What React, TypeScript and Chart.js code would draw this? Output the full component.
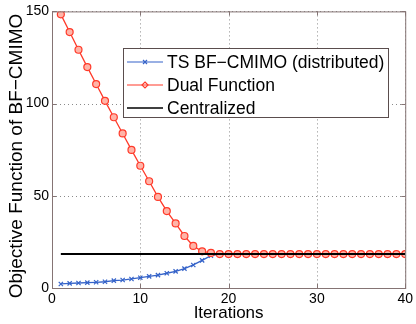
import React, { useEffect, useRef } from "react";
import { Chart, registerables } from "chart.js";

Chart.register(...registerables);

const iterations = [1, 2, 3, 4, 5, 6, 7, 8, 9, 10, 11, 12, 13, 14, 15, 16, 17, 18, 19, 20, 21, 22, 23, 24, 25, 26, 27, 28, 29, 30, 31, 32, 33, 34, 35, 36, 37, 38, 39, 40];

const tsDistributed = [2.2, 2.5, 2.7, 2.9, 3.1, 3.4, 4.0, 4.3, 4.9, 5.6, 6.3, 7.0, 8.0, 9.0, 10.5, 12.5, 15.0, 17.5, 18.4, 18.4, 18.4, 18.4, 18.4, 18.4, 18.4, 18.4, 18.4, 18.4, 18.4, 18.4, 18.4, 18.4, 18.4, 18.4, 18.4, 18.4, 18.4, 18.4, 18.4, 18.4];

const dualFunction = [148.4, 138.8, 129.2, 119.8, 110.6, 101.5, 92.6, 83.8, 74.9, 66.3, 57.9, 49.4, 41.7, 35.0, 28.2, 22.8, 19.9, 19.0, 18.4, 18.4, 18.4, 18.4, 18.4, 18.4, 18.4, 18.4, 18.4, 18.4, 18.4, 18.4, 18.4, 18.4, 18.4, 18.4, 18.4, 18.4, 18.4, 18.4, 18.4, 18.4];

const centralizedX = [1, 40];
const centralizedY = [18.4, 18.4];

const seriesNames = ["TS BF\u2212CMIMO (distributed)", "Dual Function", "Centralized"];
const yAxisTitle = "Objective Function of BF\u2212CMIMO";
const xTicks = [0, 10, 20, 30, 40];
const yTicks = [0, 50, 100, 150];

const BLUE = "#3563c9";
const RED = "#ff3a2a";
const FONT = "'Liberation Sans', Arial, sans-serif";

const gridPlugin = {
  id: "dotgrid",
  beforeDatasetsDraw(chart: any) {
    const { ctx, chartArea } = chart;
    const { left, right, top, bottom } = chartArea;
    const xs = chart.scales.x;
    const ys = chart.scales.y;
    ctx.save();
    ctx.strokeStyle = "#8a8a8a";
    ctx.lineWidth = 1;
    ctx.setLineDash([1, 3]);
    ctx.beginPath();
    xTicks.forEach((t) => {
      const px = Math.round(xs.getPixelForValue(t)) + 0.5;
      ctx.moveTo(px, top); ctx.lineTo(px, bottom);
    });
    yTicks.forEach((t) => {
      const py = Math.round(ys.getPixelForValue(t)) + 0.5;
      ctx.moveTo(left, py); ctx.lineTo(right, py);
    });
    ctx.stroke();
    ctx.restore();
  },
};

const framePlugin = {
  id: "frame",
  afterDatasetsDraw(chart: any) {
    const { ctx, chartArea } = chart;
    const { left, right, top, bottom } = chartArea;
    ctx.save();
    ctx.strokeStyle = "#857474";
    ctx.lineWidth = 1;
    ctx.strokeRect(left + 0.5, top + 0.5, right - left, bottom - top);
    const xs = chart.scales.x;
    const ys = chart.scales.y;
    ctx.beginPath();
    xTicks.forEach((t) => {
      const px = Math.round(xs.getPixelForValue(t)) + 0.5;
      ctx.moveTo(px, bottom); ctx.lineTo(px, bottom - 4);
      ctx.moveTo(px, top); ctx.lineTo(px, top + 4);
    });
    yTicks.forEach((t) => {
      const py = Math.round(ys.getPixelForValue(t)) + 0.5;
      ctx.moveTo(left, py); ctx.lineTo(left + 4, py);
      ctx.moveTo(right, py); ctx.lineTo(right - 4, py);
    });
    ctx.stroke();

    // y axis title
    ctx.save();
    ctx.translate(17, 156);
    ctx.rotate(-Math.PI / 2);
    ctx.font = `19px ${FONT}`;
    ctx.fillStyle = "#000";
    ctx.textAlign = "center";
    ctx.textBaseline = "middle";
    ctx.fillText(yAxisTitle, 0, 0);
    ctx.restore();

    // legend box
    const bx = 123, by = 48, bw = 265, bh = 69;
    ctx.fillStyle = "#ffffff";
    ctx.fillRect(bx, by, bw, bh);
    ctx.strokeStyle = "#5a4d4d";
    ctx.strokeRect(bx + 0.5, by + 0.5, bw, bh);
    const rows = [62, 85, 108];
    const colors = [BLUE, RED, "#000000"];
    ctx.font = `17.5px ${FONT}`;
    ctx.textBaseline = "middle";
    rows.forEach((ry, i) => {
      ctx.strokeStyle = colors[i];
      ctx.lineWidth = i === 2 ? 1.5 : 1.2;
      ctx.beginPath();
      ctx.moveTo(127, ry); ctx.lineTo(163, ry);
      ctx.stroke();
      if (i === 0) {
        ctx.beginPath();
        ctx.moveTo(143, ry - 2); ctx.lineTo(147, ry + 2);
        ctx.moveTo(143, ry + 2); ctx.lineTo(147, ry - 2);
        ctx.stroke();
      } else if (i === 1) {
        ctx.beginPath();
        ctx.moveTo(145, ry - 3); ctx.lineTo(148, ry); ctx.lineTo(145, ry + 3); ctx.lineTo(142, ry); ctx.closePath();
        ctx.stroke();
      }
      ctx.fillStyle = "#000";
      ctx.fillText(seriesNames[i], 167, ry + 1);
    });
    ctx.restore();
  },
};

export default function App() {
  const ref = useRef<HTMLCanvasElement | null>(null);
  useEffect(() => {
    document.body.style.margin = "0";
    const canvas = ref.current;
    if (!canvas) return;
    const chart = new Chart(canvas, {
      type: "line",
      data: {
        datasets: [
          {
            label: seriesNames[0],
            data: iterations.map((x, i) => ({ x, y: tsDistributed[i] })),
            borderColor: BLUE,
            backgroundColor: BLUE,
            borderWidth: 1.3,
            pointStyle: "crossRot",
            pointRadius: 3,
            pointBorderWidth: 1.2,
            pointBorderColor: BLUE,
            order: 3,
          },
          {
            label: seriesNames[1],
            data: iterations.map((x, i) => ({ x, y: dualFunction[i] })),
            borderColor: RED,
            backgroundColor: "#ffb4a8",
            borderWidth: 1.3,
            pointStyle: "circle",
            pointRadius: 3.5,
            pointBorderWidth: 1.2,
            pointBorderColor: RED,
            order: 2,
          },
          {
            label: seriesNames[2],
            data: centralizedX.map((x, i) => ({ x, y: centralizedY[i] })),
            borderColor: "#000000",
            borderWidth: 2,
            pointRadius: 0,
            order: 1,
          },
        ],
      },
      options: {
        animation: false,
        responsive: false,
        layout: { padding: { top: 11, right: 8, left: 0, bottom: 0 } },
        plugins: { legend: { display: false }, tooltip: { enabled: false } },
        scales: {
          x: {
            type: "linear",
            min: 0,
            max: 40,
            afterBuildTicks: (s: any) => { s.ticks = xTicks.map((v) => ({ value: v })); },
            afterFit: (s: any) => { s.height = 36; },
            grid: { display: false, drawTicks: false },
            border: { display: false },
            ticks: { color: "#000", font: { family: FONT, size: 14 }, padding: 3, maxRotation: 0 },
            title: { display: true, text: "Iterations", color: "#000", font: { family: FONT, size: 17 }, padding: { top: 0, bottom: 0 } },
          },
          y: {
            type: "linear",
            min: 0,
            max: 150,
            afterBuildTicks: (s: any) => { s.ticks = yTicks.map((v) => ({ value: v })); },
            afterFit: (s: any) => { s.width = 52; },
            grid: { display: false, drawTicks: false },
            border: { display: false },
            ticks: { color: "#000", font: { family: FONT, size: 14 }, padding: 3 },
          },
        },
      },
      plugins: [gridPlugin, framePlugin],
    } as any);
    return () => chart.destroy();
  }, []);
  return <canvas ref={ref} width={416} height={324} style={{ display: "block" }} />;
}
